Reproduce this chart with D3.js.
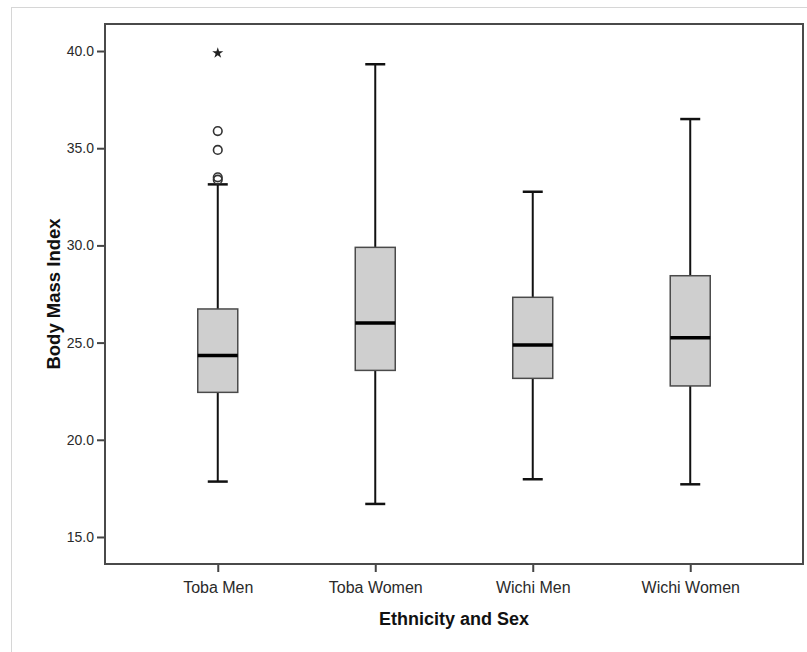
<!DOCTYPE html>
<html>
<head>
<meta charset="utf-8">
<script src="https://cdn.jsdelivr.net/npm/d3@7"></script>
<style>
  body { margin: 0; background: #fff; }
  text { font-family: "Liberation Sans", Arial, sans-serif; fill: #333; }
</style>
</head>
<body>
<div id="chart"></div>
<script>
/**
 * Data: one entry per group.
 */
var CATEGORIES = ["Toba Men", "Toba Women", "Wichi Men", "Wichi Women"];
var WHISKER_LOW = [17.85, 16.70, 17.97, 17.71];
var Q1 = [22.44, 23.57, 23.16, 22.77];
var MEDIAN = [24.33, 26.01, 24.88, 25.25];
var Q3 = [26.73, 29.90, 27.33, 28.44];
var WHISKER_HIGH = [33.14, 39.32, 32.76, 36.50];
var OUTLIERS = [[33.38, 33.50, 34.91, 35.88], [], [], []];
var EXTREMES = [[39.90], [], [], []];
var Y_TICKS = [15, 20, 25, 30, 35, 40];

/**
 * Canvas size and plot frame.
 */
var WIDTH = 807, HEIGHT = 652;
var LEFT = 105, RIGHT = 803, TOP = 24, BOTTOM = 564;

var SVG = d3.select("#chart").append("svg")
    .attr("width", WIDTH)
    .attr("height", HEIGHT);

// light outer border
SVG.append("rect").attr("x", 11.5).attr("y", 7.5)
    .attr("width", WIDTH).attr("height", HEIGHT)
    .attr("fill", "none").attr("stroke", "#d6d6d6").attr("stroke-width", 1);

var x = d3.scalePoint().domain(CATEGORIES).range([LEFT, RIGHT]).padding(0.716);
var y = d3.scaleLinear().domain([13.61, 41.39]).range([BOTTOM, TOP]);

var BOX_W = 40, CAP_W = 20;

/**
 * Axes: the frame draws the domain lines.
 */
var yAxis = SVG.append("g").attr("transform", "translate(" + LEFT + ",0)")
    .call(d3.axisLeft(y).tickValues(Y_TICKS).tickFormat(d3.format(".1f")).tickSize(8).tickPadding(3));
var xAxis = SVG.append("g").attr("transform", "translate(0," + BOTTOM + ")")
    .call(d3.axisBottom(x).tickSize(8).tickPadding(10));

[yAxis, xAxis].forEach(function (g) {
    g.select(".domain").remove();
    g.selectAll(".tick line").attr("stroke", "#444").attr("stroke-width", 2);
});
yAxis.selectAll("text").attr("font-size", 14).style("fill", "#2a2a2a");
xAxis.selectAll("text").attr("font-size", 16).style("fill", "#2a2a2a");

SVG.append("rect").attr("x", LEFT).attr("y", TOP)
    .attr("width", RIGHT - LEFT).attr("height", BOTTOM - TOP)
    .attr("fill", "none").attr("stroke", "#4a4a4a").attr("stroke-width", 2);

/**
 * Boxes and whiskers.
 */
var rows = CATEGORIES.map(function (c, i) {
    return { cat: c, lo: WHISKER_LOW[i], q1: Q1[i], med: MEDIAN[i], q3: Q3[i], hi: WHISKER_HIGH[i],
             out: OUTLIERS[i], ext: EXTREMES[i] };
});

var G = SVG.append("g");
var groups = G.selectAll("g.box").data(rows).enter().append("g").attr("class", "box");

// whisker stems
groups.append("line")
    .attr("x1", function (d) { return x(d.cat); }).attr("x2", function (d) { return x(d.cat); })
    .attr("y1", function (d) { return y(d.hi); }).attr("y2", function (d) { return y(d.q3); })
    .attr("stroke", "#111").attr("stroke-width", 2);
groups.append("line")
    .attr("x1", function (d) { return x(d.cat); }).attr("x2", function (d) { return x(d.cat); })
    .attr("y1", function (d) { return y(d.q1); }).attr("y2", function (d) { return y(d.lo); })
    .attr("stroke", "#111").attr("stroke-width", 2);

// caps
["hi", "lo"].forEach(function (k) {
    groups.append("line")
        .attr("x1", function (d) { return x(d.cat) - CAP_W / 2; })
        .attr("x2", function (d) { return x(d.cat) + CAP_W / 2; })
        .attr("y1", function (d) { return y(d[k]); }).attr("y2", function (d) { return y(d[k]); })
        .attr("stroke", "#111").attr("stroke-width", 2.5);
});

// box
groups.append("rect")
    .attr("x", function (d) { return x(d.cat) - BOX_W / 2; })
    .attr("y", function (d) { return y(d.q3); })
    .attr("width", BOX_W)
    .attr("height", function (d) { return y(d.q1) - y(d.q3); })
    .attr("fill", "#cfcfcf").attr("stroke", "#4a4a4a").attr("stroke-width", 1.5);

// median
groups.append("line")
    .attr("x1", function (d) { return x(d.cat) - BOX_W / 2; })
    .attr("x2", function (d) { return x(d.cat) + BOX_W / 2; })
    .attr("y1", function (d) { return y(d.med); }).attr("y2", function (d) { return y(d.med); })
    .attr("stroke", "#000").attr("stroke-width", 3.5);

// outliers (circles) and extremes (stars)
groups.each(function (d) {
    var g = d3.select(this);
    g.selectAll("circle").data(d.out).enter().append("circle")
        .attr("cx", x(d.cat)).attr("cy", function (v) { return y(v); }).attr("r", 4.3)
        .attr("fill", "none").attr("stroke", "#333").attr("stroke-width", 1.6);
    g.selectAll("path.ext").data(d.ext).enter().append("path").attr("class", "ext")
        .attr("d", d3.symbol().type(d3.symbolStar).size(38))
        .attr("transform", function (v) { return "translate(" + x(d.cat) + "," + y(v) + ")"; })
        .attr("fill", "#222");
});

/**
 * Axis titles.
 */
SVG.append("text").attr("x", (LEFT + RIGHT) / 2).attr("y", 625)
    .attr("text-anchor", "middle").attr("font-size", 18).attr("font-weight", "bold")
    .style("fill", "#111").text("Ethnicity and Sex");
SVG.append("text").attr("transform", "translate(60," + (TOP + BOTTOM) / 2 + ") rotate(-90)")
    .attr("text-anchor", "middle").attr("font-size", 18.5).attr("font-weight", "bold")
    .style("fill", "#111").text("Body Mass Index");
</script>
</body>
</html>
